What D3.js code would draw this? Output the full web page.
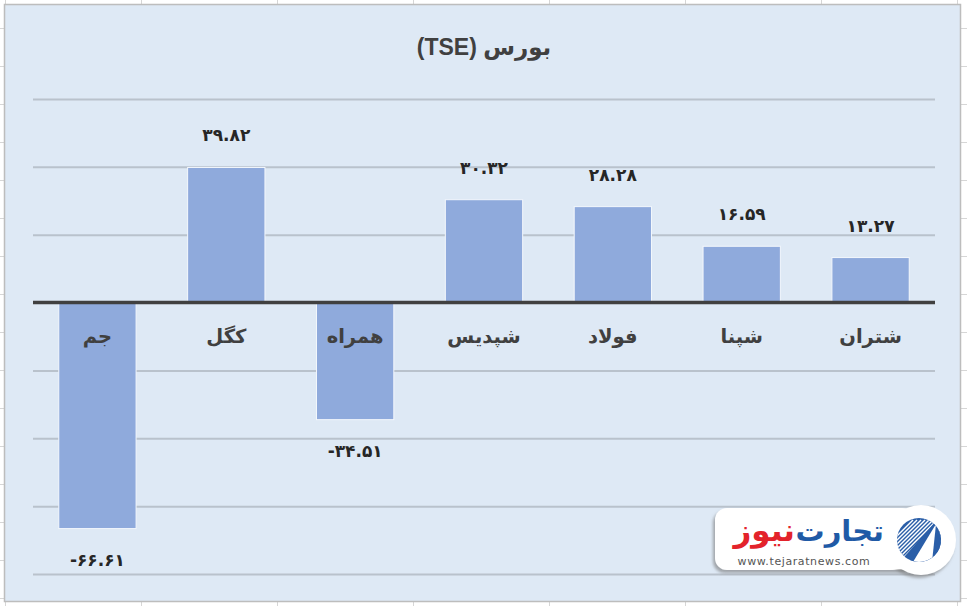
<!DOCTYPE html>
<html>
<head>
<meta charset="utf-8">
<script src="https://cdn.jsdelivr.net/npm/d3@7"></script>
<style>
  html,body{margin:0;padding:0;background:#fff;}
  svg{display:block;}
</style>
</head>
<body>
<svg id="chart" width="967" height="606"></svg>
<script>
// ---- data ----
const title = "بورس (TSE)";
const categories = ["جم", "کگل", "همراه", "شپدیس", "فولاد", "شپنا", "شتران"];
const values = [-66.61, 39.82, -34.51, 30.32, 28.28, 16.59, 13.27];
const gridTicks = [-80, -60, -40, -20, 0, 20, 40, 60];
const logoBlue = "تجارت";
const logoRed = "نیوز";
const logoUrl = "www.tejaratnews.com";

const toFa = s => s.replace(/[0-9]/g, d => "۰۱۲۳۴۵۶۷۸۹"[+d]);

const W = 967, H = 606;
const svg = d3.select("#chart");

// spreadsheet cell lines behind the chart box
const cellG = svg.append("g").attr("stroke", "#d6d6d6").attr("stroke-width", 1);
d3.range(5, W, 136).forEach(x => cellG.append("line").attr("x1", x + 0.5).attr("x2", x + 0.5).attr("y1", 0).attr("y2", H));
d3.range(28, H, 38).forEach(y => cellG.append("line").attr("y1", y + 0.5).attr("y2", y + 0.5).attr("x1", 0).attr("x2", W));

// chart box
svg.append("rect").attr("x", 4.5).attr("y", 4.5).attr("width", 956).attr("height", 597)
  .attr("fill", "#dee9f5").attr("stroke", "#bdbdbd").attr("stroke-width", 1.5);

// scales
const x = d3.scaleBand().domain(categories).range([33, 935]).paddingInner(0.4).paddingOuter(0.2);
const y = d3.scaleLinear().domain([-80, 60]).range([574, 99]);

// gridlines
const yAxis = d3.axisLeft(y).tickValues(gridTicks).tickSize(-(935 - 33)).tickFormat("");
const gAxis = svg.append("g").attr("transform", "translate(33,0)").call(yAxis);
gAxis.select(".domain").remove();
gAxis.selectAll(".tick line").attr("stroke", d => d === 0 ? "none" : "#b9c2cc").attr("stroke-width", 2);

// title
svg.append("text").attr("x", 484).attr("y", 55).attr("text-anchor", "middle")
  .attr("direction", "rtl").style("direction", "rtl").style("unicode-bidi", "embed")
  .attr("font-family", "'Liberation Sans', 'DejaVu Sans', sans-serif").attr("font-weight", "bold")
  .attr("font-size", 23).attr("fill", "#404040").text(title);

const data = categories.map((c, i) => ({ c, v: values[i] }));

// bars
svg.append("g").selectAll("rect").data(data).join("rect")
  .attr("x", d => x(d.c)).attr("width", x.bandwidth())
  .attr("y", d => y(Math.max(0, d.v))).attr("height", d => Math.abs(y(d.v) - y(0)))
  .attr("fill", "#8faadc").attr("stroke", "#f3f7fc").attr("stroke-width", 1);

// zero line
svg.append("line").attr("x1", 33).attr("x2", 935).attr("y1", y(0)).attr("y2", y(0))
  .attr("stroke", "#404040").attr("stroke-width", 3.5);

// category labels
svg.append("g").selectAll("text").data(data).join("text")
  .attr("x", d => x(d.c) + x.bandwidth() / 2).attr("y", y(0) + 40)
  .attr("text-anchor", "middle").attr("font-family", "'DejaVu Sans', sans-serif")
  .attr("font-weight", "bold").attr("font-size", 19.5).attr("fill", "#404040")
  .style("direction", "rtl").text(d => d.c);

// value labels
svg.append("g").selectAll("text").data(data).join("text")
  .attr("x", d => x(d.c) + x.bandwidth() / 2)
  .attr("y", d => d.v >= 0 ? y(d.v) - 26 : y(d.v) + 37)
  .attr("text-anchor", "middle").attr("font-family", "'DejaVu Sans', sans-serif")
  .attr("font-weight", "bold").attr("font-size", 17).attr("fill", "#262626")
  .text(d => toFa(d.v.toFixed(2)));

// logo
const lg = svg.append("g");
const defs = svg.append("defs");
const f = defs.append("filter").attr("id", "sh").attr("x", "-20%").attr("y", "-20%").attr("width", "140%").attr("height", "160%");
f.append("feDropShadow").attr("dx", -2).attr("dy", 3).attr("stdDeviation", 1.5).attr("flood-color", "#777").attr("flood-opacity", 0.6);
lg.append("rect").attr("x", 715).attr("y", 508).attr("width", 200).attr("height", 62).attr("rx", 12)
  .attr("fill", "#fff").attr("filter", "url(#sh)");
lg.append("circle").attr("cx", 921).attr("cy", 540).attr("r", 35).attr("fill", "#fff").attr("filter", "url(#sh)");
lg.append("rect").attr("x", 880).attr("y", 509).attr("width", 36).attr("height", 60).attr("fill", "#fff");
defs.append("clipPath").attr("id", "cc").append("circle").attr("cx", 919).attr("cy", 540).attr("r", 22);
lg.append("circle").attr("cx", 919).attr("cy", 540).attr("r", 22).attr("fill", "#2a5ea8");
const st = lg.append("g").attr("clip-path", "url(#cc)");
d3.range(-6, 7).forEach(k => {
  st.append("line").attr("x1", 897 + k * 4).attr("y1", 560).attr("x2", 937 + k * 4).attr("y2", 520)
    .attr("stroke", "#fff").attr("stroke-width", 1.4);
});
st.append("path").attr("d", "M905,556 L936,521 L945,540 L945,565 L905,565 Z").attr("fill", "#2a5ea8");
st.append("path").attr("d", "M913,562 L936,524 L932,562 Z").attr("fill", "#fff");
lg.append("text").attr("x", 884).attr("y", 541).attr("text-anchor", "end")
  .attr("font-family", "'DejaVu Sans', sans-serif").attr("font-weight", "bold").attr("font-size", 29)
  .attr("fill", "#1f5aa6").text(logoBlue);
lg.append("text").attr("x", 795).attr("y", 541).attr("text-anchor", "end")
  .attr("font-family", "'DejaVu Sans', sans-serif").attr("font-weight", "bold").attr("font-size", 31)
  .attr("fill", "#e3232b").text(logoRed);
lg.append("text").attr("x", 804).attr("y", 565).attr("text-anchor", "middle")
  .attr("font-family", "'DejaVu Sans', sans-serif").attr("font-size", 11).attr("letter-spacing", 0.6)
  .attr("fill", "#555").text(logoUrl);
</script>
</body>
</html>
